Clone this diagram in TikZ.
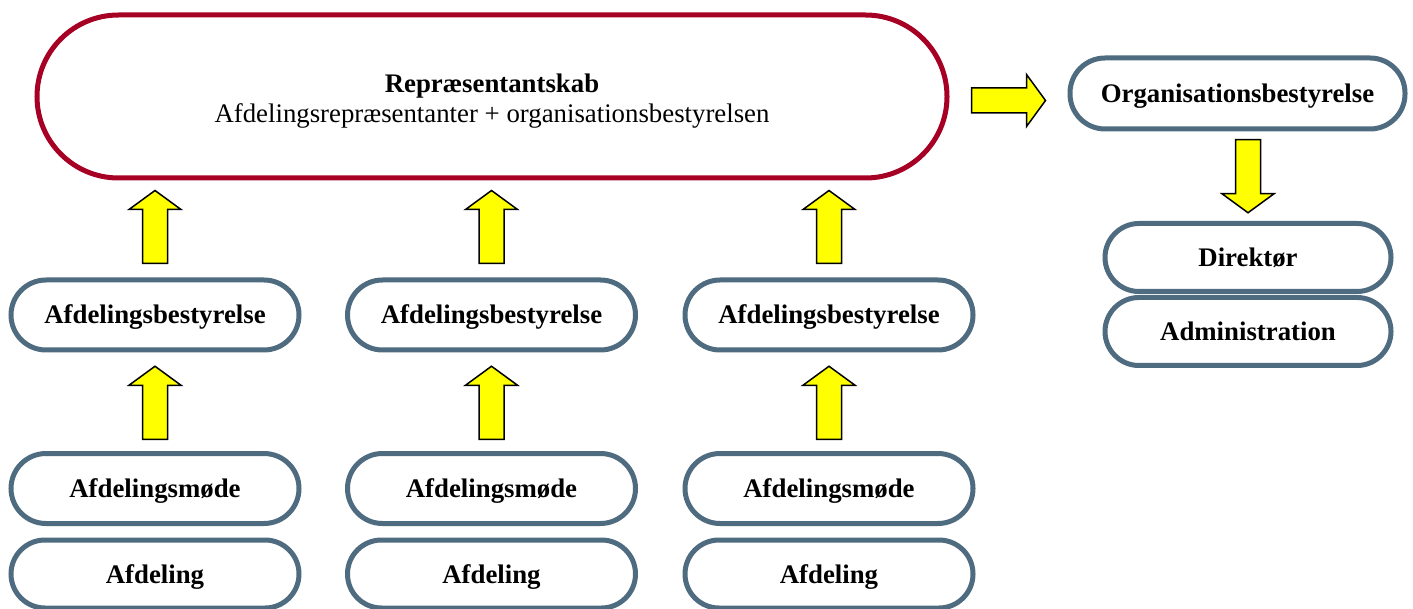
\documentclass[tikz,border=0pt]{standalone}
\usepackage{fontspec}
\setmainfont{Liberation Serif}
\usetikzlibrary{calc}
\definecolor{repred}{RGB}{166,0,36}
\definecolor{boxblue}{RGB}{78,107,128}
\definecolor{arrowyellow}{RGB}{255,255,0}
\tikzset{
  boxfont/.style={font=\fontsize{26.8}{30}\selectfont\bfseries},
  pillbox/.style={draw=boxblue, line width=5pt, fill=white, rounded corners=35pt,
    minimum width=288pt, minimum height=70pt, inner sep=0pt, boxfont,
    text height=18pt, text depth=0pt},
  redbox/.style={draw=repred, line width=5pt, fill=white, rounded corners=81.5pt,
    minimum width=910pt, minimum height=163pt, inner sep=0pt},
  reptext/.style={align=center, font=\fontsize{26.8}{30}\selectfont, inner sep=0pt},
  blockarrow/.style={draw=black, fill=arrowyellow, line width=1.5pt, line join=miter},
  uparr/.pic={\draw[blockarrow] (-12.5,36.5) -- (-12.5,-17.5) -- (-26,-17.5) -- (0,-36.5)
      -- (26,-17.5) -- (12.5,-17.5) -- (12.5,36.5) -- cycle;},
  downarr/.pic={\draw[blockarrow] (-12.5,-36.5) -- (-12.5,17.5) -- (-26,17.5) -- (0,36.5)
      -- (26,17.5) -- (12.5,17.5) -- (12.5,-36.5) -- cycle;},
  rightarr/.pic={\draw[blockarrow] (-37,-12.5) -- (18,-12.5) -- (18,-26) -- (37,0)
      -- (18,26) -- (18,12.5) -- (-37,12.5) -- cycle;}
}
\begin{document}
\begin{tikzpicture}[x=1pt,y=-1pt]
\useasboundingbox (0,0) rectangle (1413,609);

% Representantskab
\node[redbox] (rep) at (492,96.5) {};
\node[reptext] (reptxt) at ($(rep.center)+(0,4.5)$)
  {\textbf{Repræsentantskab}\\Afdelingsrepræsentanter + organisationsbestyrelsen};

% Right side
\node[pillbox, minimum width=335pt, minimum height=71pt] (ob) at (1237.5,93.5) {Organisationsbestyrelse};
\node[pillbox, minimum width=286pt, minimum height=68pt, rounded corners=34pt] (dir) at (1248,257.5) {Direktør};
\node[pillbox, minimum width=286pt, minimum height=68pt, rounded corners=34pt] (adm) at (1248,331.5) {Administration};

% Columns
\foreach \i/\x in {1/155, 2/491.5, 3/829} {
  \node[pillbox] (ab\i) at (\x,315) {Afdelingsbestyrelse};
  \node[pillbox] (am\i) at (\x,488.5) {Afdelingsmøde};
  \node[pillbox, minimum height=68pt, rounded corners=34pt] (af\i) at (\x,574) {Afdeling};
}

% Arrows
\foreach \i in {1,2,3} {
  \pic at ($($(ab\i.north)!0.5!(ab\i.north |- rep.south)$)+(0,-2)$) {uparr};
  \pic at ($($(am\i.north)!0.5!(ab\i.south)$)+(0,1)$) {uparr};
}
\pic at ($($(rep.east)!0.5!(ob.west)$)+(0,5.5)$) {rightarr};
\pic at ($(dir.north)!0.5!(dir.north |- ob.south)$) {downarr};
\end{tikzpicture}
\end{document}
